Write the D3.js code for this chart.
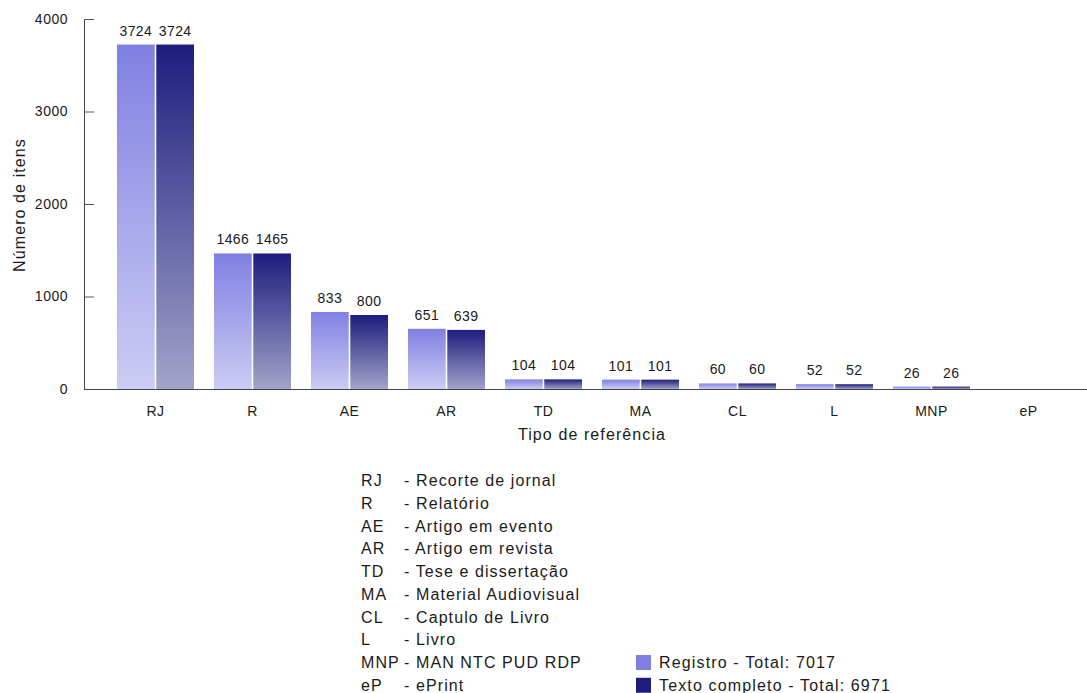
<!DOCTYPE html>
<html><head><meta charset="utf-8">
<script src="https://cdn.jsdelivr.net/npm/d3@7"></script>
<style>
body{margin:0;background:#fff}
text{font-family:"Liberation Sans",Arial,Helvetica,sans-serif;fill:#1a1a1a}
</style></head>
<body><svg id="c" width="1087" height="693"></svg>
<script>
const categories=["RJ","R","AE","AR","TD","MA","CL","L","MNP","eP"];
const registro=[3724,1466,833,651,104,101,60,52,26,0];
const textoCompleto=[3724,1465,800,639,104,101,60,52,26,0];
const yTicks=[0,1000,2000,3000,4000];
const seriesNames=["Registro - Total: 7017","Texto completo - Total: 6971"];
const descriptions=["Recorte de jornal","Relatório","Artigo em evento","Artigo em revista","Tese e dissertação","Material Audiovisual","Captulo de Livro","Livro","MAN NTC PUD RDP","ePrint"];
const yTitle="Número de itens";
const xTitle="Tipo de referência";

const topColors=["#8080e2","#1d1d7e"];
const bottomColors=["#ccccf4","#a3a3ca"];

const svg=d3.select("#c");
const defs=svg.append("defs");
[0,1].forEach(i=>{
  const g=defs.append("linearGradient").attr("id","g"+i).attr("x1",0).attr("y1",0).attr("x2",0).attr("y2",1);
  g.append("stop").attr("offset","0%").attr("stop-color",topColors[i]);
  g.append("stop").attr("offset","100%").attr("stop-color",bottomColors[i]);
});

const x=d3.scaleBand().domain(categories).range([107,1077]).paddingInner(0.206).paddingOuter(0.103);
const xs=d3.scaleBand().domain([0,1]).range([0,x.bandwidth()]).paddingInner(0.04);
const y=d3.scaleLinear().domain([0,4000]).range([389,19]);

const series=[registro,textoCompleto];
const data=[];
categories.forEach((c,i)=>series.forEach((s,k)=>data.push({c,k,v:s[i]})));

svg.append("g").selectAll("rect").data(data.filter(d=>d.v>0)).join("rect")
  .attr("x",d=>x(d.c)+xs(d.k)).attr("width",xs.bandwidth())
  .attr("y",d=>y(d.v)).attr("height",d=>y(0)-y(d.v))
  .attr("fill",d=>"url(#g"+d.k+")");

svg.append("g").selectAll("text").data(data.filter(d=>d.v>0)).join("text")
  .attr("x",d=>x(d.c)+xs(d.k)+xs.bandwidth()/2).attr("y",d=>y(d.v)-9)
  .attr("text-anchor","middle").style("font-size","14px").style("letter-spacing","0.4px").text(d=>d.v);

// y axis
const ya=svg.append("g").attr("transform","translate(84,0)")
  .call(d3.axisLeft(y).tickValues(yTicks).tickSizeInner(-10).tickSizeOuter(0).tickPadding(16).tickFormat(d3.format("d")));
ya.selectAll("text").style("font-size","14px").style("letter-spacing","0.5px").style("font-family","'Liberation Sans',Arial,sans-serif").attr("fill","#1a1a1a");
ya.selectAll("line").attr("stroke","#555");
ya.select(".domain").attr("stroke","#444");

// x axis
const xa=svg.append("g").attr("transform","translate(0,"+y(0)+")")
  .call(d3.axisBottom(x).tickSize(0).tickPadding(17));
xa.select(".domain").remove();
xa.selectAll("text").style("font-size","14px").style("letter-spacing","0.5px").style("font-family","'Liberation Sans',Arial,sans-serif").attr("fill","#1a1a1a");
svg.append("line").attr("x1",84).attr("x2",1087).attr("y1",y(0)+0.5).attr("y2",y(0)+0.5).attr("stroke","#444");

svg.append("text").attr("transform","translate(25,205) rotate(-90)").attr("text-anchor","middle")
  .style("font-size","16px").style("letter-spacing","1.1px").text(yTitle);
svg.append("text").attr("x",592).attr("y",440).attr("text-anchor","middle")
  .style("font-size","16px").style("letter-spacing","1.1px").text(xTitle);

// abbreviations legend
const lg=svg.append("g");
categories.forEach((c,i)=>{
  const yy=486+i*22.75;
  lg.append("text").attr("x",361).attr("y",yy).style("font-size","16px").style("letter-spacing","1.1px").text(c);
  lg.append("text").attr("x",404).attr("y",yy).style("font-size","16px").style("letter-spacing","1.1px").text("- "+descriptions[i]);
});
// series legend
seriesNames.forEach((n,i)=>{
  const yy=486+(8+i)*22.75;
  lg.append("rect").attr("x",636).attr("y",yy-13).attr("width",15).attr("height",15).attr("fill",topColors[i]);
  lg.append("text").attr("x",659).attr("y",yy).style("font-size","16px").style("letter-spacing","1.15px").text(n);
});
</script></body></html>
